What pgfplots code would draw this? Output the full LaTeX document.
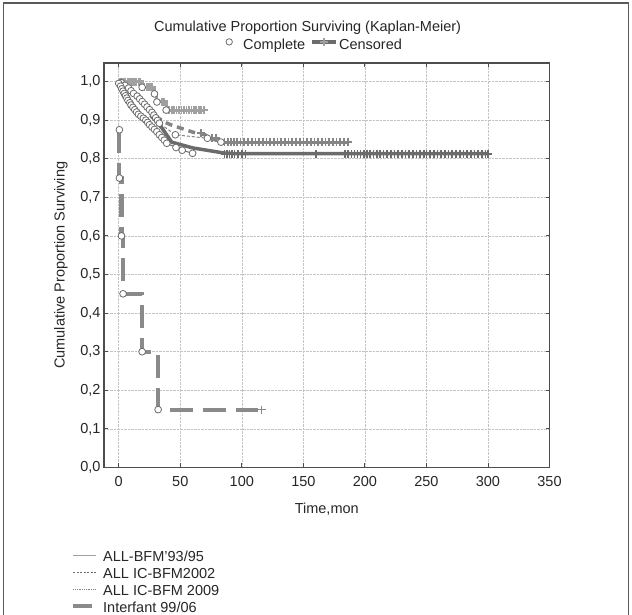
\documentclass[border=0pt]{standalone}
\usepackage{fontspec}
\setmainfont{Liberation Sans}
\usepackage{pgfplots}
\pgfplotsset{compat=1.18}
\definecolor{framegray}{HTML}{5A5A5A}
\definecolor{axisgray}{HTML}{4D4D4D}
\definecolor{gridgray}{HTML}{C4C4C4}
\definecolor{cgray}{HTML}{6B6B6B}
\definecolor{bgray}{HTML}{858585}
\definecolor{agray}{HTML}{A0A0A0}
\definecolor{igray}{HTML}{8A8A8A}
\definecolor{circgray}{HTML}{6B6B6B}
\definecolor{txt}{HTML}{262626}
\newcommand{\f}{\fontsize{14.5}{17}\selectfont}
\pgfplotsset{
  circ/.style={only marks, mark=*, mark size=3.4pt, mark options={fill=white, draw=circgray, line width=0.8pt}},
  cens/.style={only marks, mark=+, mark size=4pt, mark options={line width=1.7pt, draw=#1}},
}
\begin{document}
\begin{tikzpicture}[x=1pt,y=1pt]
\useasboundingbox (0,0) rectangle (632,615);
\draw[framegray, line width=1.5pt] (3.5,0) -- (3.5,612) -- (628.5,612) -- (628.5,0);
\begin{axis}[
  at={(104pt,147.5pt)}, anchor=south west,
  width=445.5pt, height=404.5pt, scale only axis,
  xmin=-12, xmax=350, ymin=0, ymax=1.048,
  xtick={0,50,100,150,200,250,300,350},
  ytick={0,0.1,0.2,0.3,0.4,0.5,0.6,0.7,0.8,0.9,1.0},
  y tick label style={/pgf/number format/.cd, fixed, fixed zerofill, precision=1, use comma},
  /pgf/number format/assume math mode=true,
  ticklabel style={font=\f, text=txt},
  x tick label style={yshift=-5pt},
  tick align=inside, major tick length=4pt,
  tick style={axisgray, line width=0.9pt},
  axis line style={axisgray, line width=1.2pt},
  grid=major, grid style={densely dotted, gridgray, line width=0.6pt},
  xlabel={Time,mon}, ylabel={Cumulative Proportion Surviving},
  label style={font=\f, text=txt},
  xlabel style={at={(axis description cs:0.5,-0.1026)}, anchor=center},
  ylabel style={at={(axis description cs:-0.097,0.5)}, anchor=center},
  title={Cumulative Proportion Surviving (Kaplan-Meier)},
  title style={at={(axis description cs:0.457,1.0717)}, anchor=center, font=\f, text=txt},
  legend style={at={(axis description cs:-0.0705,-0.2037)}, anchor=north west, draw=none, fill=none,
    inner sep=0pt, font=\f, text=txt, row sep=0pt, column sep=6.4pt,
    nodes={inner sep=0pt, text height=11pt, text depth=6pt}},
  legend cell align=left,
]
% ---- ALL IC-BFM 2009 (curve A)
\addplot[const plot, agray, line width=3pt, forget plot] coordinates {(0,1.0) (19,0.985) (29,0.968) (31,0.947) (38.5,0.926) (69,0.926)};
\addplot[cens=agray, forget plot] coordinates {(1,1.0) (2.5,1.0) (4,1.0) (5.5,1.0) (7,1.0) (8.5,1.0) (10,1.0) (11.5,1.0) (13,1.0) (14.5,1.0) (16,1.0) (17.5,1.0)
 (21,0.985) (22.5,0.985) (24,0.985) (25.5,0.985) (27,0.985) (35,0.947) (37,0.947)
 (41,0.926) (43,0.926) (45,0.926) (47,0.926) (49,0.926) (51,0.926) (53,0.926) (55,0.926) (57,0.926) (59,0.926) (61,0.926) (63,0.926) (65,0.926) (67,0.926) (69,0.926)};
% ---- ALL IC-BFM2002 (curve B)
\addplot[bgray, line width=3.5pt, dash pattern=on 7pt off 5pt, forget plot] coordinates {(30,0.91) (37,0.895) (43,0.887) (60,0.869) (70,0.862) (75,0.852) (85,0.843)};
\addplot[bgray, line width=2.8pt, forget plot] coordinates {(85,0.843) (187,0.843)};
\addplot[bgray, line width=1pt, dash pattern=on 3pt off 2pt, forget plot] coordinates {(0,1.0) (2,0.997) (5,0.99) (8,0.983) (10,0.976) (12,0.969) (15,0.962) (17,0.955) (19,0.948) (21,0.941) (23,0.934) (25,0.927) (27,0.92) (28.5,0.913) (30,0.906) (31.5,0.899) (33,0.892) (46,0.862) (72,0.853) (83,0.843)};
\addplot[cens=bgray, forget plot] coordinates {(67,0.866) (76,0.853) (79,0.853)
 (86,0.843) (88.5,0.843) (91,0.843) (93.5,0.843) (96,0.843) (99,0.843) (102,0.843) (105,0.843) (108,0.843) (111,0.843) (114,0.843) (117,0.843) (120,0.843) (123,0.843) (126,0.843) (129,0.843) (132,0.843) (135,0.843) (138,0.843) (141,0.843) (144,0.843) (147,0.843) (150,0.843) (153,0.843) (156,0.843) (159,0.843) (162,0.843) (165,0.843) (168,0.843) (171,0.843) (174,0.843) (177,0.843) (180,0.843) (183,0.843) (186.5,0.843)};
% ---- ALL-BFM'93/95 (curve C)
\addplot[cgray, line width=3.5pt, forget plot] coordinates {(26,0.912) (35,0.88) (43,0.843) (60,0.828) (85,0.815) (95,0.813) (300,0.813)};
\addplot[cgray, line width=1pt, forget plot] coordinates {(0,0.995) (1.5,0.988) (2.5,0.981) (3.5,0.975) (4.5,0.969) (5.5,0.963) (6.5,0.957) (7.5,0.951) (9,0.945) (10,0.939) (11.5,0.933) (13,0.927) (14.5,0.921) (16,0.915) (18,0.91) (20,0.905) (22,0.9) (23.5,0.894) (25,0.888) (27,0.882) (29,0.876) (31,0.87) (33,0.862) (35,0.855) (37,0.848) (39,0.84) (46.5,0.829) (51.5,0.822) (60,0.814)};
\addplot[cens=cgray, forget plot] coordinates {(86,0.813) (88,0.813) (90,0.813) (92,0.813) (94,0.813) (97,0.813) (100,0.813) (103,0.813) (160,0.813)
 (184,0.813) (186.5,0.813) (189,0.813) (191.5,0.813) (194,0.813) (196.5,0.813) (199,0.813) (201.5,0.813) (204,0.813) (207,0.813) (210,0.813) (212.5,0.813) (215,0.813) (218,0.813) (221,0.813) (224,0.813) (227,0.813) (230,0.813) (233,0.813) (236,0.813) (239,0.813) (242,0.813) (245,0.813) (248,0.813) (250,0.813) (253,0.813) (256,0.813) (259,0.813) (262,0.813) (265,0.813) (268,0.813) (271,0.813) (274,0.813) (277,0.813) (280,0.813) (283,0.813) (286,0.813) (289,0.813) (292,0.813) (295,0.813) (298,0.813) (300,0.813)};
% circles (complete)
\addplot[circ, forget plot] coordinates {(19,0.985) (29,0.968) (31,0.947) (38.5,0.926)};
\addplot[circ, forget plot] coordinates {(2,0.997) (5,0.99) (8,0.983) (10,0.976) (12,0.969) (15,0.962) (17,0.955) (19,0.948) (21,0.941) (23,0.934) (25,0.927) (27,0.92) (28.5,0.913) (30,0.906) (31.5,0.899) (33,0.892) (46,0.862) (72,0.853) (83,0.843)};
\addplot[circ, forget plot] coordinates {(0,0.995) (1.5,0.988) (2.5,0.981) (3.5,0.975) (4.5,0.969) (5.5,0.963) (6.5,0.957) (7.5,0.951) (9,0.945) (10,0.939) (11.5,0.933) (13,0.927) (14.5,0.921) (16,0.915) (18,0.91) (20,0.905) (22,0.9) (23.5,0.894) (25,0.888) (27,0.882) (29,0.876) (31,0.87) (33,0.862) (35,0.855) (37,0.848) (39,0.84) (46.5,0.829) (51.5,0.822) (60,0.814)};
% ---- Interfant 99/06
\addplot[const plot, igray, line width=4.2pt, dash pattern=on 23pt off 10pt, forget plot] coordinates {(0.5,0.875) (0.5,0.75) (2.2,0.6) (3.5,0.45) (19,0.3) (32,0.15) (113,0.15)};
\addplot[cens=igray, forget plot] coordinates {(116,0.15)};
\addplot[circ, forget plot] coordinates {(0.5,0.875) (0.5,0.75) (2.2,0.6) (3.5,0.45) (19,0.3) (32,0.15)};
% legend (bottom)
\addlegendimage{legend image code/.code={\draw[agray, solid, line width=1pt] (0pt,3.5pt) -- (23pt,3.5pt);}}
\addlegendentry{ALL-BFM'93/95}
\addlegendimage{legend image code/.code={\draw[cgray, line width=0.7pt, dash pattern=on 2pt off 1.5pt] (0pt,3.5pt) -- (23pt,3.5pt);}}
\addlegendentry{ALL IC-BFM2002}
\addlegendimage{legend image code/.code={\draw[bgray, line width=0.7pt, dash pattern=on 0.8pt off 1pt] (0pt,3.5pt) -- (23pt,3.5pt);}}
\addlegendentry{ALL IC-BFM 2009}
\addlegendimage{legend image code/.code={\fill[igray, draw=none] (0pt,1.5pt) rectangle (19pt,5.5pt); \path[draw=none] (0pt,3.5pt) -- (23pt,3.5pt);}}
\addlegendentry{Interfant 99/06}
\end{axis}
\begin{axis}[
  at={(104pt,147.5pt)}, anchor=south west,
  width=445.5pt, height=404.5pt, scale only axis, hide axis,
  xmin=0, xmax=1, ymin=0, ymax=1,
  legend columns=2,
  legend style={at={(axis description cs:0.2725,1.0445)}, anchor=west, draw=none, fill=none,
    inner sep=0pt, font=\f, text=txt, column sep=1.3pt,
    nodes={inner sep=0pt, text height=11pt, text depth=3pt},
    /tikz/every even column/.append style={column sep=5pt}},
]
\addlegendimage{legend image code/.code={\draw[fill=white, draw=circgray, solid, line width=0.8pt] (3.6pt,4pt) circle (3.2pt); \path[draw=none] (0pt,4pt) -- (16.3pt,4pt);}}
\addlegendentry{Complete}
\addlegendimage{legend image code/.code={\draw[cgray, solid, line width=3.5pt] (0pt,4pt) -- (24pt,4pt); \draw[agray, solid, line width=1.6pt] (12pt,0pt) -- (12pt,8pt) (8pt,4pt) -- (16pt,4pt);}}
\addlegendentry{Censored}
\end{axis}
\end{tikzpicture}
\end{document}
